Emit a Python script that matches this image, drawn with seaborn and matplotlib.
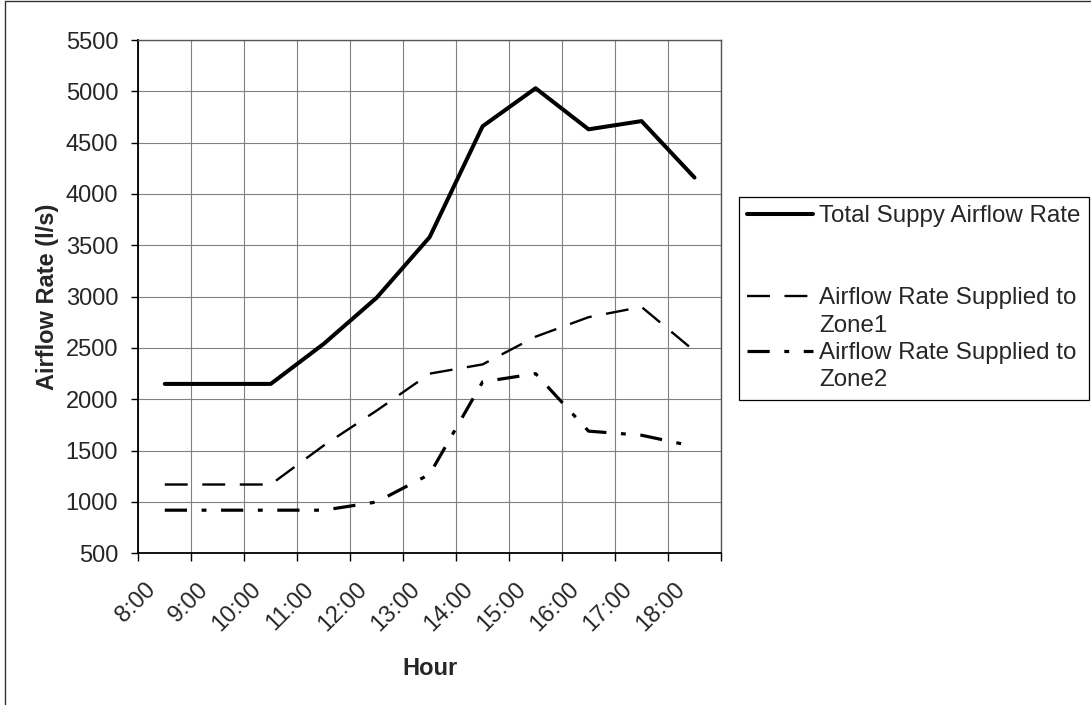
import matplotlib
matplotlib.use("Agg")
import matplotlib.pyplot as plt
import seaborn as sns
from matplotlib.lines import Line2D
from matplotlib.transforms import ScaledTranslation

# Hourly airflow data
hours = ["8:00", "9:00", "10:00", "11:00", "12:00", "13:00",
         "14:00", "15:00", "16:00", "17:00", "18:00"]
total_supply = [2150, 2150, 2150, 2540, 2990, 3580, 4660, 5030, 4630, 4710, 4160]
zone1_supply = [1170, 1170, 1170, 1550, 1890, 2250, 2340, 2610, 2800, 2900, 2470]
zone2_supply = [920, 920, 920, 920, 1000, 1270, 2170, 2250, 1690, 1650, 1540]
y_ticks = list(range(500, 5501, 500))

sns.set_theme(style="ticks")
plt.rcParams["font.family"] = ["Liberation Sans", "DejaVu Sans"]
plt.rcParams["lines.scale_dashes"] = False

W, H = 1091, 705
fig = plt.figure(figsize=(W / 100, H / 100), dpi=100)
left, right, top, bottom = 138.3, 721.0, 40.0, 553.3
ax = fig.add_axes([left / W, 1 - bottom / H, (right - left) / W, (bottom - top) / H])

FS = 17

sns.lineplot(x=hours, y=total_supply, ax=ax, color="black", lw=2.9,
             sort=False, label="Total Suppy Airflow Rate")
sns.lineplot(x=hours, y=zone1_supply, ax=ax, color="black", lw=1.7,
             linestyle=(0, (16.5, 10.5)), sort=False,
             label="Airflow Rate Supplied to Zone1")
sns.lineplot(x=hours, y=zone2_supply, ax=ax, color="black", lw=2.3,
             linestyle=(0, (16, 10.5, 3.5, 10.5)), sort=False,
             label="Airflow Rate Supplied to Zone2")
if ax.get_legend() is not None:
    ax.get_legend().remove()

# Axes limits, ticks and grid
ax.set_xlim(-0.5, len(hours) - 0.5)
ax.set_ylim(y_ticks[0], y_ticks[-1])
ax.set_yticks(y_ticks)
ax.set_yticklabels([str(v) for v in y_ticks], fontsize=FS)
ax.set_xticks([i - 0.5 for i in range(len(hours) + 1)])
ax.set_xticklabels([])
ax.set_xticks(range(len(hours)), minor=True)
ax.set_xticklabels(hours, minor=True, rotation=45, ha="right", va="center",
                   rotation_mode="anchor", fontsize=FS)
ax.tick_params(axis="x", which="major", length=6, width=1, direction="out",
               color="black", labelbottom=False)
ax.tick_params(axis="x", which="minor", length=0, pad=23.5)
ax.tick_params(axis="y", which="major", length=5, width=1, direction="out",
               color="black", pad=9.5)
shift = ScaledTranslation(-13 / 100, 0, fig.dpi_scale_trans)
for lbl in ax.get_xticklabels(minor=True):
    lbl.set_transform(lbl.get_transform() + shift)

ax.grid(True, which="major", color="#808080", lw=0.8)
ax.set_axisbelow(True)
for side in ["left", "bottom"]:
    ax.spines[side].set_color("black")
    ax.spines[side].set_linewidth(1.3)
for side in ["top", "right"]:
    ax.spines[side].set_color("#555555")
    ax.spines[side].set_linewidth(1.0)

ax.set_xlabel("Hour", fontsize=FS, fontweight="bold")
ax.set_ylabel("Airflow Rate (l/s)", fontsize=FS, fontweight="bold")
ax.xaxis.set_label_coords(0.5, (bottom - 657) / (bottom - top))
ax.yaxis.set_label_coords((59 - left) / (right - left), 0.5)

# Legend: each label wraps onto a second line, with spacer rows below the first entry
lines = ax.get_lines()
blank = Line2D([], [], color="none")
handles = [lines[0], blank, blank, lines[1], blank, lines[2], blank]
labels = ["Total Suppy Airflow Rate", " ", " ",
          "Airflow Rate Supplied to", "Zone1",
          "Airflow Rate Supplied to", "Zone2"]
leg = fig.legend(handles, labels, loc="upper left",
                 bbox_to_anchor=(739 / W, 1 - 197 / H), borderaxespad=0,
                 fontsize=17.4, frameon=True, fancybox=False, shadow=False,
                 framealpha=1, edgecolor="black", labelspacing=0.22,
                 handlelength=2.7, handletextpad=0.25, borderpad=0.35)
leg.get_frame().set_linewidth(0.9)

# Outer chart border
fig.add_artist(Line2D([4.5 / W, 4.5 / W], [0, 1 - 1 / H], transform=fig.transFigure,
                      color="#333333", lw=1.0))
fig.add_artist(Line2D([4.5 / W, 1], [1 - 1 / H, 1 - 1 / H], transform=fig.transFigure,
                      color="#333333", lw=1.0))

fig.savefig("out.png", dpi=100)
